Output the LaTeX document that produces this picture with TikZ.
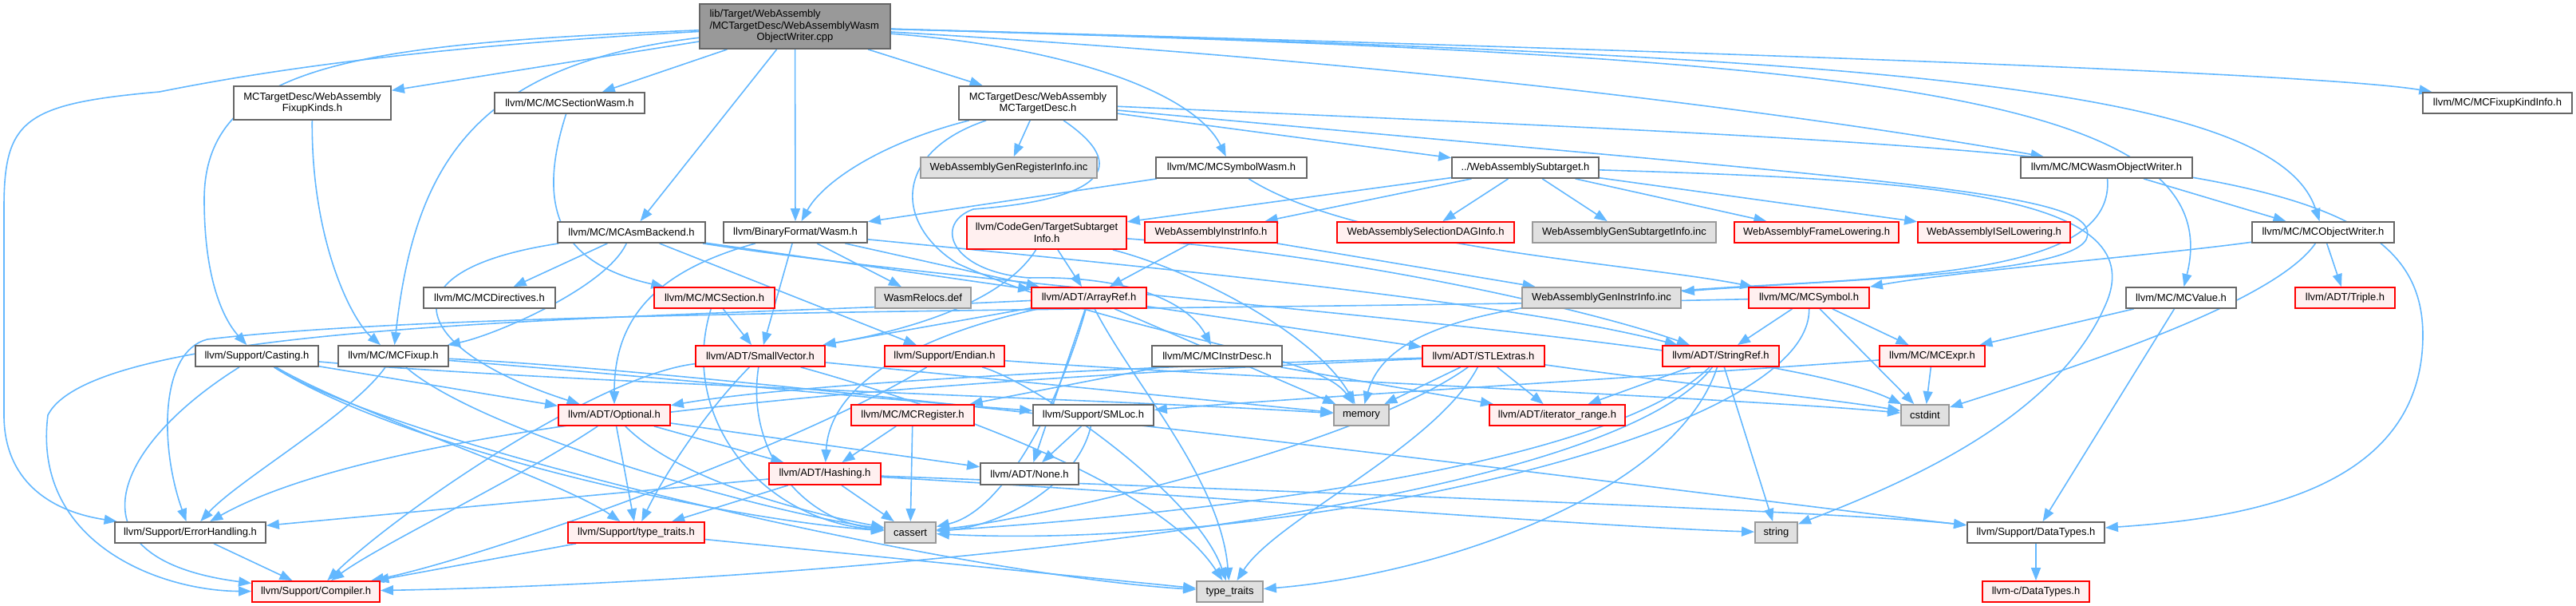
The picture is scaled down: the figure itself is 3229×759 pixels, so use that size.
\documentclass[tikz,border=0pt]{standalone}
\usepackage{fontspec}
\setmainfont{Liberation Sans}
\usetikzlibrary{arrows.meta}
\definecolor{edgec}{HTML}{63B8FF}
\definecolor{bordn}{HTML}{666666}
\definecolor{bordr}{HTML}{FF0000}
\definecolor{fillr}{HTML}{FFF0F0}
\definecolor{bordg}{HTML}{999999}
\definecolor{fillg}{HTML}{E0E0E0}
\definecolor{fillroot}{HTML}{999999}
\pgfdeclarelayer{background}
\pgfsetlayers{background,main}
\tikzset{
  nbase/.style={draw=bordn, line width=1.8pt, fill=white, inner sep=0pt, align=center,
    font=\fontsize{13}{14.5}\selectfont, minimum height=26pt},
  nnorm/.style={nbase},
  nred/.style={nbase, draw=bordr, fill=fillr},
  ngray/.style={nbase, draw=bordg, fill=fillg},
  nroot/.style={nbase, fill=fillroot},
  e/.style={draw=edgec, line width=1.6pt, -{Triangle[length=16pt,width=12pt]}},
}
\begin{document}
\begin{tikzpicture}[x=1pt,y=-1pt]
\useasboundingbox (0,0) rectangle (3229,759);
% nodes
\node[nroot, minimum width=239pt, minimum height=56pt] (root) at (996.5,33) {\makebox[214pt][l]{lib/Target/WebAssembly}\\\makebox[214pt][l]{/MCTargetDesc/WebAssemblyWasm}\\ObjectWriter.cpp};
\node[nnorm, minimum width=197pt, minimum height=42pt] (fixk) at (391.5,129) {MCTargetDesc/WebAssembly\\FixupKinds.h};
\node[nnorm, minimum width=188pt] (secw) at (714,129) {llvm/MC/MCSectionWasm.h};
\node[nnorm, minimum width=198pt, minimum height=42pt] (mctd) at (1301,129) {MCTargetDesc/WebAssembly\\MCTargetDesc.h};
\node[nnorm, minimum width=187pt] (fki) at (3130.5,129) {llvm/MC/MCFixupKindInfo.h};
\node[ngray, minimum width=221pt] (greg) at (1264.5,210) {WebAssemblyGenRegisterInfo.inc};
\node[nnorm, minimum width=189pt] (symw) at (1543.5,210) {llvm/MC/MCSymbolWasm.h};
\node[nnorm, minimum width=184pt] (subt) at (1912,210) {../WebAssemblySubtarget.h};
\node[nnorm, minimum width=215pt] (wow) at (2640.5,210) {llvm/MC/MCWasmObjectWriter.h};
\node[nnorm, minimum width=185pt] (asmb) at (791.5,291) {llvm/MC/MCAsmBackend.h};
\node[nnorm, minimum width=180pt] (bfw) at (997,291) {llvm/BinaryFormat/Wasm.h};
\node[nred, minimum width=200pt, minimum height=41pt] (tsi) at (1312,291.5) {llvm/CodeGen/TargetSubtarget\\Info.h};
\node[nred, minimum width=166pt] (iinfo) at (1518,291) {WebAssemblyInstrInfo.h};
\node[nred, minimum width=222pt] (sdag) at (1787,291) {WebAssemblySelectionDAGInfo.h};
\node[ngray, minimum width=230pt] (gsub) at (2036,291) {WebAssemblyGenSubtargetInfo.inc};
\node[nred, minimum width=206pt] (frame) at (2277,291) {WebAssemblyFrameLowering.h};
\node[nred, minimum width=191pt] (isel) at (2499.5,291) {WebAssemblyISelLowering.h};
\node[nnorm, minimum width=178pt] (mow) at (2912,291) {llvm/MC/MCObjectWriter.h};
\node[nnorm, minimum width=165pt] (dir) at (613.5,373) {llvm/MC/MCDirectives.h};
\node[nred, minimum width=151pt] (sec) at (895.5,373) {llvm/MC/MCSection.h};
\node[ngray, minimum width=120pt] (wrel) at (1157,373) {WasmRelocs.def};
\node[nred, minimum width=144pt] (aref) at (1365,373) {llvm/ADT/ArrayRef.h};
\node[ngray, minimum width=199pt] (ginstr) at (2007.5,373) {WebAssemblyGenInstrInfo.inc};
\node[nred, minimum width=151pt] (sym) at (2267.5,373) {llvm/MC/MCSymbol.h};
\node[nnorm, minimum width=138pt] (val) at (2734,373) {llvm/MC/MCValue.h};
\node[nred, minimum width=125pt] (triple) at (2939.5,373) {llvm/ADT/Triple.h};
\node[nnorm, minimum width=154pt] (cast) at (322,446) {llvm/Support/Casting.h};
\node[nnorm, minimum width=138pt] (fixup) at (493,446) {llvm/MC/MCFixup.h};
\node[nred, minimum width=162pt] (svec) at (953,446) {llvm/ADT/SmallVector.h};
\node[nred, minimum width=150pt] (endian) at (1184,446) {llvm/Support/Endian.h};
\node[nnorm, minimum width=163pt] (idesc) at (1525.5,446) {llvm/MC/MCInstrDesc.h};
\node[nred, minimum width=153pt] (stl) at (1859.5,446) {llvm/ADT/STLExtras.h};
\node[nred, minimum width=146pt] (sref) at (2157,446) {llvm/ADT/StringRef.h};
\node[nred, minimum width=132pt] (expr) at (2422,446) {llvm/MC/MCExpr.h};
\node[nred, minimum width=140pt] (opt) at (770,520) {llvm/ADT/Optional.h};
\node[nred, minimum width=154pt] (mreg) at (1144,520) {llvm/MC/MCRegister.h};
\node[nnorm, minimum width=151pt] (smloc) at (1370.5,520) {llvm/Support/SMLoc.h};
\node[ngray, minimum width=69pt] (memory) at (1706.5,520) {memory};
\node[nred, minimum width=170pt] (irange) at (1952,520) {llvm/ADT/iterator\_range.h};
\node[ngray, minimum width=60pt] (cstdint) at (2413,520) {cstdint};
\node[nred, minimum width=140pt, minimum height=27pt] (hash) at (1034,593.5) {llvm/ADT/Hashing.h};
\node[nnorm, minimum width=123pt, minimum height=27pt] (none) at (1290.5,593.5) {llvm/ADT/None.h};
\node[nnorm, minimum width=189pt] (err) at (238.5,667) {llvm/Support/ErrorHandling.h};
\node[nred, minimum width=171pt] (tt) at (797.5,667) {llvm/Support/type\_traits.h};
\node[ngray, minimum width=64pt] (cassert) at (1141,667) {cassert};
\node[ngray, minimum width=53pt] (string) at (2226.5,667) {string};
\node[nnorm, minimum width=172pt] (dtypes) at (2552,667) {llvm/Support/DataTypes.h};
\node[nred, minimum width=160pt] (compiler) at (396,741) {llvm/Support/Compiler.h};
\node[ngray, minimum width=83pt] (stdtt) at (1541.5,741) {type\_traits};
\node[nred, minimum width=134pt] (cdt) at (2552,741) {llvm-c/DataTypes.h};
% edges
\begin{pgfonlayer}{background}
\fill[white] (0,0) rectangle (3229,759);
% root
\draw[e] (root) -- (fixk);
\draw[e] (root) -- (secw);
\draw[e] (root) -- (mctd);
\draw[e] (root) .. controls (1350,60) and (1500,120) .. (symw);
\draw[e] (root) -- (bfw);
\draw[e] (root) -- (asmb);
\draw[e] (root) .. controls (600,80) and (520,200) .. (fixup);
\draw[e] (root) .. controls (450,55) and (256,80) .. (256,250) .. controls (256,350) and (280,400) .. (cast);
\draw[e] (root) .. controls (500,60) and (300,95) .. (200,115) .. controls (30,130) and (5,150) .. (5,260) -- (5,520) .. controls (5,600) and (60,640) .. (err);
\draw[e] (root) .. controls (2000,60) and (2900,90) .. (fki);
\draw[e] (root) .. controls (2300,70) and (2850,100) .. (mow);
\draw[e] (root) .. controls (2300,70) and (2800,110) .. (val);
\draw[e] (root) .. controls (1800,80) and (2300,150) .. (wow);
% fixk, secw
\draw[e] (fixk) .. controls (390,300) and (440,400) .. (fixup);
\draw[e] (secw) .. controls (672,260) and (700,330) .. (sec);
% mctd
\draw[e] (mctd) -- (greg);
\draw[e] (mctd) .. controls (1100,180) and (1030,230) .. (bfw);
\draw[e] (mctd) -- (subt);
\draw[e] (mctd) .. controls (1420,210) and (1380,250) .. (1220,262) .. controls (1170,280) and (1190,340) .. (1290,348) .. controls (1420,345) and (1490,380) .. (idesc);
\draw[e] (mctd) .. controls (1120,190) and (1120,280) .. (1200,330) .. controls (1400,420) and (1650,440) .. (memory);
\draw[e] (mctd) .. controls (2700,190) and (3037,200) .. (3037,420) .. controls (3037,620) and (2800,650) .. (dtypes);
\draw[e] (mctd) .. controls (2400,230) and (2640,240) .. (2615,300) .. controls (2590,345) and (2300,350) .. (ginstr);
% subt
\draw[e] (subt) -- (tsi);
\draw[e] (subt) -- (iinfo);
\draw[e] (subt) -- (sdag);
\draw[e] (subt) -- (gsub);
\draw[e] (subt) -- (frame);
\draw[e] (subt) -- (isel);
\draw[e] (subt) .. controls (2400,225) and (2700,240) .. (2640,380) .. controls (2580,520) and (2400,600) .. (string);
% symw, wow
\draw[e] (symw) -- (bfw);
\draw[e] (symw) .. controls (1700,310) and (2050,330) .. (sym);
\draw[e] (wow) -- (mow);
\draw[e] (wow) .. controls (2650,330) and (2450,345) .. (2200,358) .. controls (1900,375) and (1740,400) .. (memory);
% asmb
\draw[e] (asmb) -- (dir);
\draw[e] (asmb) .. controls (760,360) and (620,420) .. (fixup);
\draw[e] (asmb) .. controls (470,340) and (520,440) .. (opt);
\draw[e] (asmb) -- (endian);
\draw[e] (asmb) -- (aref);
\draw[e] (asmb) .. controls (1300,370) and (2200,420) .. (cstdint);
% bfw
\draw[e] (bfw) -- (wrel);
\draw[e] (bfw) -- (svec);
\draw[e] (bfw) .. controls (820,340) and (770,400) .. (opt);
\draw[e] (bfw) -- (aref);
\draw[e] (bfw) .. controls (1500,340) and (1900,380) .. (sref);
% tsi
\draw[e] (tsi) -- (aref);
\draw[e] (tsi) .. controls (1250,390) and (1100,420) .. (svec);
\draw[e] (tsi) .. controls (1500,340) and (1650,420) .. (memory);
\draw[e] (tsi) .. controls (1700,320) and (2000,390) .. (sref);
% iinfo
\draw[e] (iinfo) -- (aref);
\draw[e] (iinfo) -- (ginstr);
% mow
\draw[e] (mow) .. controls (2700,320) and (2450,340) .. (sym);
\draw[e] (mow) -- (triple);
\draw[e] (mow) .. controls (2850,380) and (2600,460) .. (cstdint);
% val
\draw[e] (val) -- (expr);
\draw[e] (val) -- (dtypes);
% sec
\draw[e] (sec) -- (svec);
\draw[e] (sec) .. controls (850,520) and (950,650) .. (cassert);
% aref
\draw[e] (aref) -- (svec);
\draw[e] (aref) -- (stl);
\draw[e] (aref) .. controls (1150,420) and (1040,480) .. (hash);
\draw[e] (aref) -- (none);
\draw[e] (aref) .. controls (800,400) and (120,400) .. (60,520) .. controls (40,680) and (200,740) .. (compiler);
\draw[e] (aref) .. controls (1330,500) and (1260,640) .. (cassert);
\draw[e] (aref) -- (memory);
\draw[e] (aref) .. controls (1420,480) and (1530,600) .. (stdtt);
% svec
\draw[e] (svec) .. controls (750,470) and (500,640) .. (compiler);
\draw[e] (svec) .. controls (880,520) and (830,600) .. (tt);
\draw[e] (svec) .. controls (935,560) and (1000,650) .. (cassert);
\draw[e] (svec) -- (memory);
\draw[e] (svec) .. controls (1150,500) and (1450,600) .. (stdtt);
% endian
\draw[e] (endian) .. controls (1000,560) and (600,700) .. (compiler);
\draw[e] (endian) .. controls (1500,470) and (2200,500) .. (cstdint);
\draw[e] (endian) .. controls (1300,480) and (1500,620) .. (stdtt);
% idesc
\draw[e] (idesc) -- (mreg);
\draw[e] (idesc) -- (irange);
% stl
\draw[e] (stl) -- (memory);
\draw[e] (stl) -- (irange);
\draw[e] (stl) .. controls (1700,560) and (1300,650) .. (cassert);
\draw[e] (stl) .. controls (1800,560) and (1600,650) .. (stdtt);
\draw[e] (stl) .. controls (1400,460) and (1000,480) .. (opt);
\draw[e] (stl) .. controls (2100,480) and (2300,500) .. (cstdint);
\draw[e] (stl) .. controls (1200,475) and (500,520) .. (err);
% sref
\draw[e] (sref) -- (irange);
\draw[e] (sref) .. controls (2000,650) and (1000,730) .. (compiler);
\draw[e] (sref) .. controls (2000,600) and (1400,650) .. (cassert);
\draw[e] (sref) .. controls (2100,620) and (1800,720) .. (stdtt);
\draw[e] (sref) -- (string);
% sym
\draw[e] (sym) -- (sref);
\draw[e] (sym) -- (expr);
\draw[e] (sym) -- (cstdint);
\draw[e] (sym) .. controls (2270,550) and (1600,690) .. (cassert);
\draw[e] (sym) .. controls (1500,390) and (600,385) .. (260,425) .. controls (200,440) and (200,560) .. (err);
% expr
\draw[e] (expr) -- (cstdint);
\draw[e] (expr) .. controls (2100,470) and (1600,500) .. (smloc);
% opt
\draw[e] (opt) -- (hash);
\draw[e] (opt) -- (none);
\draw[e] (opt) .. controls (650,600) and (480,680) .. (compiler);
\draw[e] (opt) -- (tt);
\draw[e] (opt) .. controls (850,600) and (1000,640) .. (cassert);
% mreg, smloc
\draw[e] (mreg) -- (hash);
\draw[e] (mreg) -- (cassert);
\draw[e] (smloc) -- (none);
\draw[e] (smloc) .. controls (1350,610) and (1250,660) .. (cassert);
% hash
\draw[e] (hash) -- (err);
\draw[e] (hash) -- (tt);
\draw[e] (hash) -- (cassert);
\draw[e] (hash) .. controls (1500,620) and (2000,660) .. (string);
\draw[e] (hash) .. controls (1600,615) and (2300,640) .. (dtypes);
% tt, err, dtypes
\draw[e] (tt) -- (compiler);
\draw[e] (tt) -- (stdtt);
\draw[e] (err) -- (compiler);
\draw[e] (dtypes) -- (cdt);
% cast
\draw[e] (cast) .. controls (140,560) and (80,700) .. (compiler);
\draw[e] (cast) .. controls (450,520) and (700,600) .. (tt);
\draw[e] (cast) .. controls (500,560) and (900,650) .. (cassert);
\draw[e] (cast) -- (opt);
\draw[e] (cast) .. controls (700,480) and (1400,500) .. (memory);
\draw[e] (cast) .. controls (500,560) and (1200,720) .. (stdtt);
% fixup
\draw[e] (fixup) .. controls (440,520) and (300,600) .. (err);
\draw[e] (fixup) .. controls (800,470) and (1100,500) .. (smloc);
\draw[e] (fixup) .. controls (1000,470) and (2300,640) .. (dtypes);
\draw[e] (fixup) .. controls (600,540) and (950,640) .. (cassert);
\end{pgfonlayer}
\end{tikzpicture}
\end{document}
